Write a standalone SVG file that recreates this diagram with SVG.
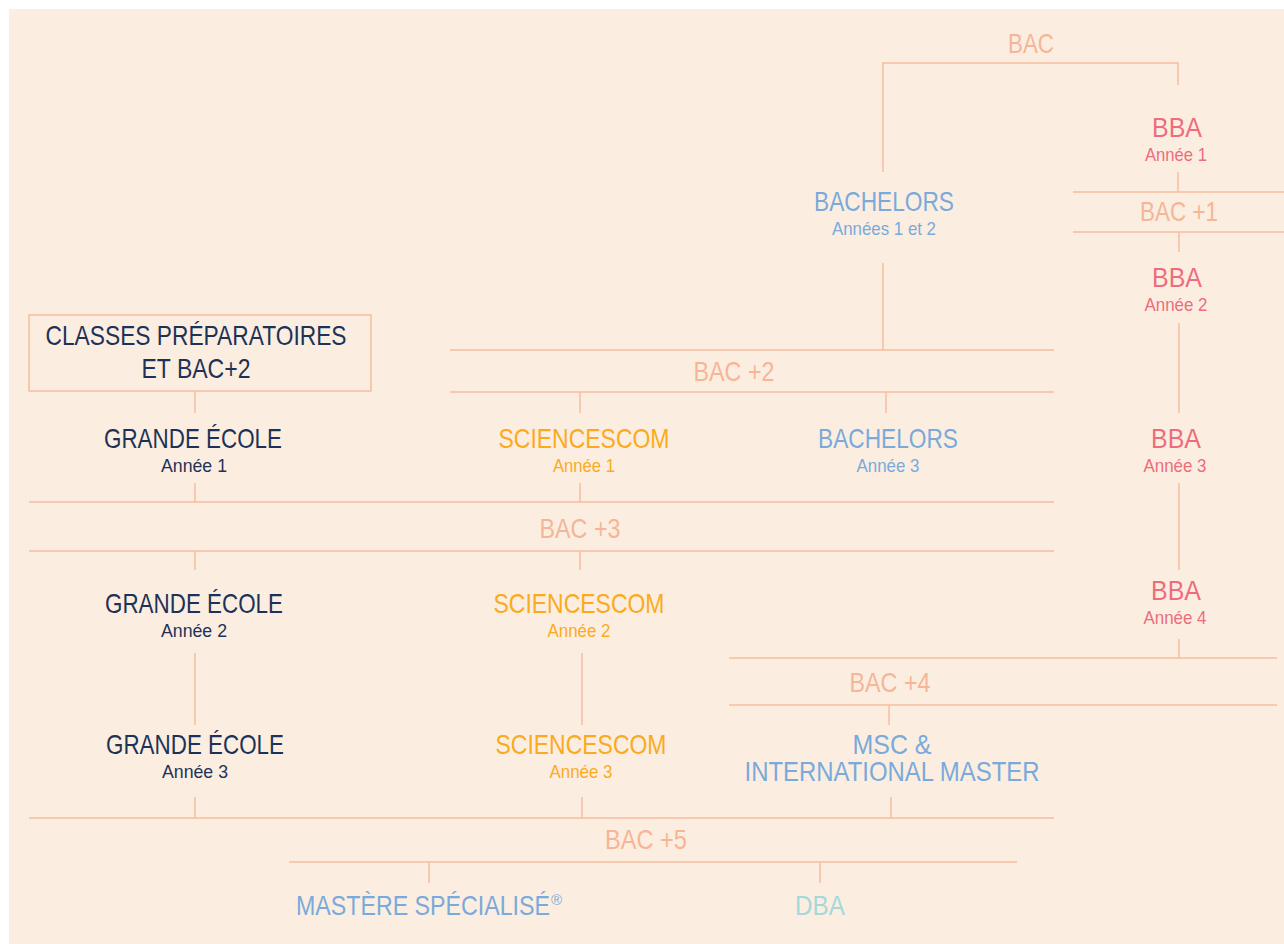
<svg xmlns="http://www.w3.org/2000/svg" width="1284" height="944" viewBox="0 0 1284 944">
<style>
text{font-family:"Liberation Sans","Roboto",sans-serif;text-anchor:middle;}
.m{font-size:28px;}
.s{font-size:19px;}
.bac{fill:#F6B596;}
.navy{fill:#1E3257;}
.org{fill:#FBAA1E;}
.blu{fill:#79AADB;}
.pnk{fill:#EE6C7C;}
.teal{fill:#A5D8DB;}
.ln line,.ln path{stroke:#F7BD9E;stroke-width:1.5;fill:none;}
</style>
<rect x="9" y="9" width="1275" height="935" fill="#FBEEE1"/>
<g id="connectors" class="ln">
<path d="M883 172 V63 H1178 V85"/>
<line x1="1178" y1="172" x2="1178" y2="192"/>
<line x1="1073" y1="192" x2="1284" y2="192"/>
<line x1="1073" y1="232" x2="1284" y2="232"/>
<line x1="1179" y1="232" x2="1179" y2="252"/>
<line x1="1179" y1="323" x2="1179" y2="413"/>
<line x1="1179" y1="483" x2="1179" y2="570"/>
<line x1="1179" y1="639" x2="1179" y2="658"/>
<line x1="883" y1="263" x2="883" y2="350"/>
<line x1="450" y1="350" x2="1054" y2="350"/>
<line x1="450" y1="392" x2="1054" y2="392"/>
<line x1="580" y1="392" x2="580" y2="413"/>
<line x1="886" y1="392" x2="886" y2="413"/>
<line x1="195" y1="391" x2="195" y2="413"/>
<line x1="195" y1="483" x2="195" y2="502"/>
<line x1="580" y1="483" x2="580" y2="502"/>
<line x1="29" y1="502" x2="1054" y2="502"/>
<line x1="29" y1="551" x2="1054" y2="551"/>
<line x1="195" y1="551" x2="195" y2="570"/>
<line x1="580" y1="551" x2="580" y2="570"/>
<line x1="195" y1="653" x2="195" y2="725"/>
<line x1="582" y1="653" x2="582" y2="725"/>
<line x1="729" y1="658" x2="1277" y2="658"/>
<line x1="729" y1="705" x2="1277" y2="705"/>
<line x1="889" y1="705" x2="889" y2="725"/>
<line x1="195" y1="797" x2="195" y2="818"/>
<line x1="582" y1="797" x2="582" y2="818"/>
<line x1="891" y1="797" x2="891" y2="818"/>
<line x1="29" y1="818" x2="1054" y2="818"/>
<line x1="289" y1="862" x2="1017" y2="862"/>
<line x1="429" y1="862" x2="429" y2="883"/>
<line x1="820" y1="862" x2="820" y2="883"/>
</g>
<g id="bac"><text class="m bac" x="1031" y="53" textLength="46" lengthAdjust="spacingAndGlyphs">BAC</text></g>
<g id="bac1"><text class="m bac" x="1179" y="221" textLength="78" lengthAdjust="spacingAndGlyphs">BAC +1</text></g>
<g id="bac2"><text class="m bac" x="734" y="381" textLength="81" lengthAdjust="spacingAndGlyphs">BAC +2</text></g>
<g id="bac3"><text class="m bac" x="580" y="538" textLength="81" lengthAdjust="spacingAndGlyphs">BAC +3</text></g>
<g id="bac4"><text class="m bac" x="890" y="692" textLength="81" lengthAdjust="spacingAndGlyphs">BAC +4</text></g>
<g id="bac5"><text class="m bac" x="646" y="849" textLength="82" lengthAdjust="spacingAndGlyphs">BAC +5</text></g>
<g id="bba1"><text class="m pnk" x="1177" y="137" textLength="50" lengthAdjust="spacingAndGlyphs">BBA</text><text class="s pnk" x="1176" y="161" textLength="62" lengthAdjust="spacingAndGlyphs">Année 1</text></g>
<g id="bba2"><text class="m pnk" x="1177" y="287" textLength="50" lengthAdjust="spacingAndGlyphs">BBA</text><text class="s pnk" x="1176" y="311" textLength="63" lengthAdjust="spacingAndGlyphs">Année 2</text></g>
<g id="bba3"><text class="m pnk" x="1176" y="448" textLength="50" lengthAdjust="spacingAndGlyphs">BBA</text><text class="s pnk" x="1175" y="472" textLength="63" lengthAdjust="spacingAndGlyphs">Année 3</text></g>
<g id="bba4"><text class="m pnk" x="1176" y="600" textLength="50" lengthAdjust="spacingAndGlyphs">BBA</text><text class="s pnk" x="1175" y="624" textLength="63" lengthAdjust="spacingAndGlyphs">Année 4</text></g>
<g id="bachelors12"><text class="m blu" x="884" y="211" textLength="140" lengthAdjust="spacingAndGlyphs">BACHELORS</text><text class="s blu" x="884" y="235" textLength="104" lengthAdjust="spacingAndGlyphs">Années 1 et 2</text></g>
<g id="bachelors3"><text class="m blu" x="888" y="448" textLength="140" lengthAdjust="spacingAndGlyphs">BACHELORS</text><text class="s blu" x="888" y="472" textLength="63" lengthAdjust="spacingAndGlyphs">Année 3</text></g>
<g id="prepa"><rect x="29" y="315" width="342" height="76" fill="none" stroke="#F7BD9E" stroke-width="1.5"/><text class="m navy" x="196" y="345" textLength="301" lengthAdjust="spacingAndGlyphs">CLASSES PRÉPARATOIRES</text><text class="m navy" x="196" y="378" textLength="109" lengthAdjust="spacingAndGlyphs">ET BAC+2</text></g>
<g id="ge1"><text class="m navy" x="193" y="448" textLength="178" lengthAdjust="spacingAndGlyphs">GRANDE ÉCOLE</text><text class="s navy" x="194" y="472" textLength="66" lengthAdjust="spacingAndGlyphs">Année 1</text></g>
<g id="ge2"><text class="m navy" x="194" y="613" textLength="178" lengthAdjust="spacingAndGlyphs">GRANDE ÉCOLE</text><text class="s navy" x="194" y="637" textLength="66" lengthAdjust="spacingAndGlyphs">Année 2</text></g>
<g id="ge3"><text class="m navy" x="195" y="754" textLength="178" lengthAdjust="spacingAndGlyphs">GRANDE ÉCOLE</text><text class="s navy" x="195" y="778" textLength="66" lengthAdjust="spacingAndGlyphs">Année 3</text></g>
<g id="sc1"><text class="m org" x="584" y="448" textLength="171" lengthAdjust="spacingAndGlyphs">SCIENCESCOM</text><text class="s org" x="584" y="472" textLength="62" lengthAdjust="spacingAndGlyphs">Année 1</text></g>
<g id="sc2"><text class="m org" x="579" y="613" textLength="171" lengthAdjust="spacingAndGlyphs">SCIENCESCOM</text><text class="s org" x="579" y="637" textLength="63" lengthAdjust="spacingAndGlyphs">Année 2</text></g>
<g id="sc3"><text class="m org" x="581" y="754" textLength="171" lengthAdjust="spacingAndGlyphs">SCIENCESCOM</text><text class="s org" x="581" y="778" textLength="63" lengthAdjust="spacingAndGlyphs">Année 3</text></g>
<g id="msc"><text class="m blu"><tspan x="892" y="754" textLength="79" lengthAdjust="spacingAndGlyphs">MSC &amp;</tspan><tspan x="892" y="781" textLength="295" lengthAdjust="spacingAndGlyphs">INTERNATIONAL MASTER</tspan></text></g>
<g id="ms"><text class="m blu" x="296" y="915" style="text-anchor:start"><tspan textLength="254" lengthAdjust="spacingAndGlyphs">MASTÈRE SPÉCIALISÉ</tspan><tspan font-size="15" dx="1" dy="-10">®</tspan></text></g>
<g id="dba"><text class="m teal" x="820" y="915" textLength="50" lengthAdjust="spacingAndGlyphs">DBA</text></g>
</svg>
